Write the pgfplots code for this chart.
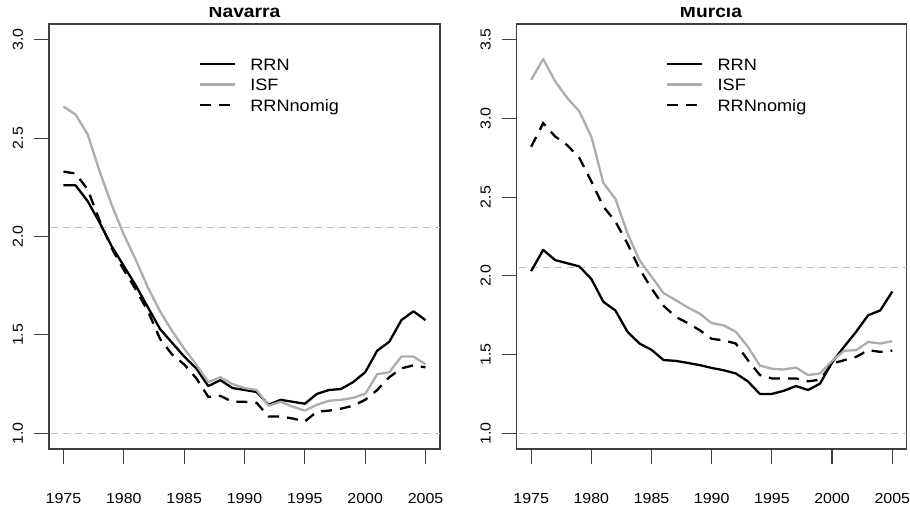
\documentclass[border=0pt]{standalone}
\usepackage{fontspec}
\setmainfont{Liberation Sans}[FakeStretch=1.1]
\usepackage{pgfplots}
\pgfplotsset{compat=1.18}
\usepackage{pgfplotstable}
\definecolor{isf}{gray}{0.68}
\definecolor{frame}{gray}{0.25}
\definecolor{refl}{gray}{0.74}

\pgfplotstableread{
yr rrn isf nomig
1975 2.26 2.66 2.33
1976 2.26 2.62 2.32
1977 2.18 2.52 2.24
1978 2.07 2.33 2.08
1979 1.95 2.16 1.94
1980 1.85 2.01 1.83
1981 1.75 1.88 1.73
1982 1.64 1.74 1.62
1983 1.53 1.62 1.48
1984 1.46 1.52 1.40
1985 1.39 1.43 1.35
1986 1.33 1.35 1.28
1987 1.24 1.26 1.185
1988 1.27 1.285 1.19
1989 1.23 1.25 1.16
1990 1.22 1.23 1.16
1991 1.21 1.22 1.155
1992 1.145 1.14 1.085
1993 1.17 1.16 1.085
1994 1.16 1.135 1.075
1995 1.15 1.115 1.06
1996 1.20 1.145 1.11
1997 1.22 1.165 1.115
1998 1.225 1.17 1.125
1999 1.26 1.18 1.14
2000 1.31 1.20 1.17
2001 1.42 1.30 1.22
2002 1.465 1.31 1.285
2003 1.575 1.39 1.33
2004 1.62 1.39 1.345
2005 1.575 1.35 1.335
}\navarra

\pgfplotstableread{
yr rrn isf nomig
1975 2.03 3.245 2.82
1976 2.165 3.377 2.97
1977 2.10 3.235 2.885
1978 2.08 3.13 2.83
1979 2.06 3.045 2.75
1980 1.98 2.885 2.60
1981 1.835 2.59 2.44
1982 1.78 2.49 2.345
1983 1.645 2.27 2.205
1984 1.57 2.10 2.045
1985 1.53 1.995 1.92
1986 1.465 1.89 1.81
1987 1.46 1.846 1.74
1988 1.447 1.80 1.70
1989 1.433 1.76 1.655
1990 1.415 1.70 1.60
1991 1.40 1.685 1.59
1992 1.38 1.645 1.57
1993 1.33 1.55 1.465
1994 1.25 1.43 1.37
1995 1.25 1.41 1.348
1996 1.27 1.405 1.348
1997 1.30 1.418 1.348
1998 1.275 1.37 1.33
1999 1.315 1.38 1.34
2000 1.45 1.46 1.443
2001 1.55 1.524 1.464
2002 1.645 1.528 1.485
2003 1.75 1.58 1.528
2004 1.78 1.57 1.517
2005 1.90 1.585 1.525
}\murcia

\pgfplotsset{
  panel/.style={
    scale only axis,
    height=425pt,
    anchor=south west,
    axis line style={frame, line width=1.2pt},
    xmin=1973.8, xmax=2006.2,
    xtick={1975,1980,...,2005},
    tick align=outside,
    xtick pos=bottom, ytick pos=left,
    major tick length=15pt,
    minor tick num=0,
    major tick style={frame, line width=1.2pt},
    tick label style={font=\fontsize{14.5}{14.5}\selectfont},
    /pgf/number format/assume math mode=true,
    xticklabel style={/pgf/number format/1000 sep={}},
    yticklabel style={rotate=90, anchor=south, /pgf/number format/.cd, fixed, fixed zerofill, precision=1},
    xticklabel shift=26pt,
    yticklabel shift=7.5pt,
    legend image code/.code={\draw[##1] (0pt,0pt) -- (35pt,0pt);},
    legend cell align=left,
    legend style={draw=none, fill=none, inner sep=0pt, outer sep=0pt,
      at={(0.3836,0.92)}, anchor=north west,
      font=\fontsize{16.5}{17}\selectfont,
      row sep=8.5pt,
      nodes={inner sep=0pt, text height=12pt, text depth=0pt, font=\fontsize{16.5}{17}\selectfont},
      /tikz/every odd column/.append style={column sep=14pt}},
  },
  rrnst/.style={black, line width=2.3pt, line join=round},
  isfst/.style={isf, line width=2.3pt, line join=round},
  nomigst/.style={black, line width=2.3pt, dash pattern=on 11pt off 8pt},
  refst/.style={refl, line width=1.2pt, dash pattern=on 7pt off 5pt, forget plot},
}

\begin{document}
\begin{tikzpicture}
\path[use as bounding box] (0,0) rectangle (910pt,507pt);

\begin{axis}[panel, at={(49pt,58pt)}, width=391pt,
  ymin=0.92, ymax=3.08, ytick={1.0,1.5,2.0,2.5,3.0}]
  \addplot[refst] coordinates {(1970,1) (2010,1)};
  \addplot[refst] coordinates {(1970,2.045) (2010,2.045)};
  \addplot[rrnst] table[x=yr,y=rrn]{\navarra};
  \addlegendentry{RRN}
  \addplot[isfst] table[x=yr,y=isf]{\navarra};
  \addlegendentry{ISF}
  \addplot[nomigst] table[x=yr,y=nomig]{\navarra};
  \addlegendentry{RRNnomig}
\end{axis}

\begin{axis}[panel, at={(516.7pt,58pt)}, width=390pt,
  ymin=0.9, ymax=3.6, ytick={1.0,1.5,2.0,2.5,3.0,3.5}]
  \addplot[refst] coordinates {(1970,1) (2010,1)};
  \addplot[refst] coordinates {(1970,2.055) (2010,2.055)};
  \addplot[rrnst] table[x=yr,y=rrn]{\murcia};
  \addlegendentry{RRN}
  \addplot[isfst] table[x=yr,y=isf]{\murcia};
  \addlegendentry{ISF}
  \addplot[nomigst] table[x=yr,y=nomig]{\murcia};
  \addlegendentry{RRNnomig}
\end{axis}

\begin{scope}
  \clip (0,0) rectangle (910pt,499pt);
  \node[anchor=base, font=\bfseries\fontsize{17.5}{18}\selectfont] at (244.5pt,489pt) {Navarra};
  \node[anchor=base, font=\bfseries\fontsize{17.5}{18}\selectfont] at (711pt,489pt) {Murcia};
\end{scope}
\end{tikzpicture}
\end{document}
